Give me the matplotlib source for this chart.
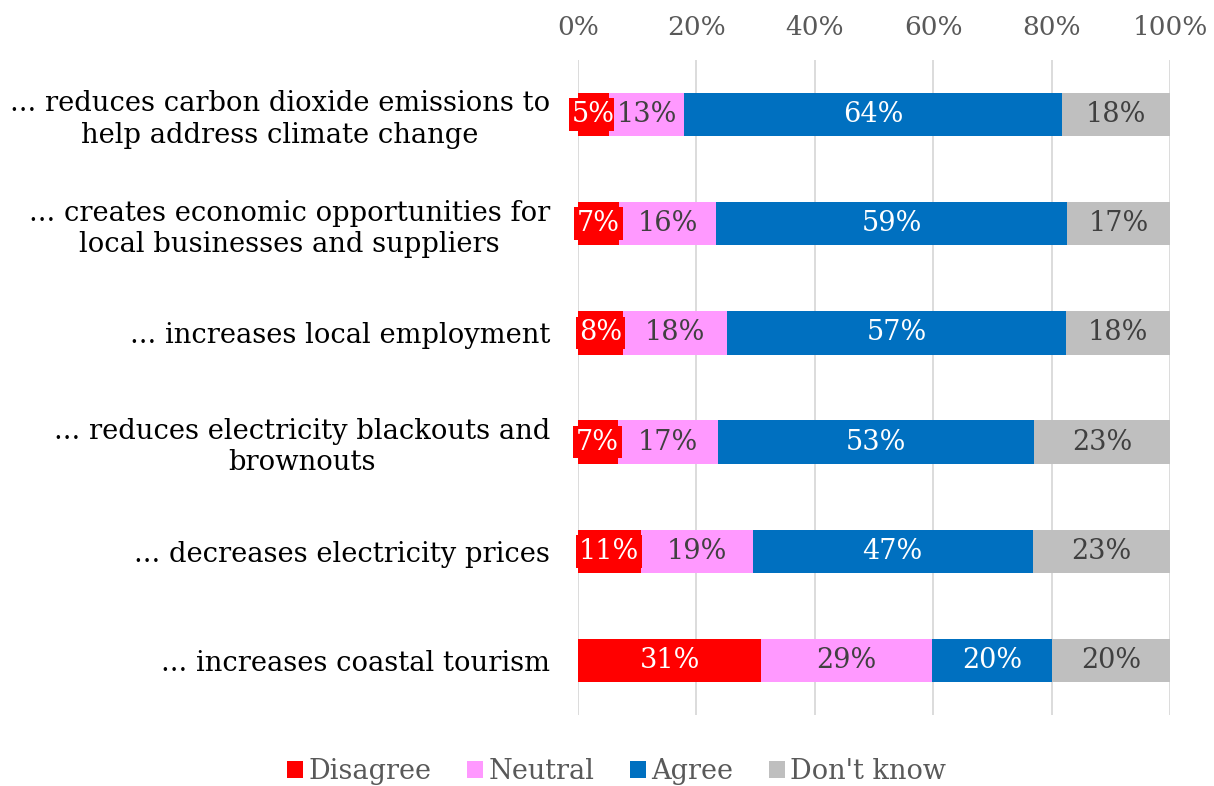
import matplotlib.pyplot as plt
import numpy as np

categories = [
    "... reduces carbon dioxide emissions to\nhelp address climate change",
    "... creates economic opportunities for\nlocal businesses and suppliers",
    "... increases local employment",
    "... reduces electricity blackouts and\nbrownouts",
    "... decreases electricity prices",
    "... increases coastal tourism",
]
series = ["Disagree", "Neutral", "Agree", "Don't know"]
# shares (labels show them rounded)
disagree = [5.3, 7.0, 7.6, 6.7, 10.6, 31.0]
neutral = [12.7, 16.4, 17.6, 17.0, 18.9, 28.8]
agree = [63.8, 59.2, 57.2, 53.4, 47.3, 20.3]
dont_know = [18.2, 17.4, 17.6, 22.9, 23.2, 19.9]

colors = ["#FF0000", "#FF99FF", "#0070C0", "#BFBFBF"]
label_colors = ["white", "#404040", "white", "#404040"]

plt.rcParams['font.family'] = ['DejaVu Serif']

fig = plt.figure(figsize=(12.14, 7.86), dpi=100)
ax = fig.add_axes([0.476, 0.090, 0.4878, 0.834])

y = np.arange(len(categories))
left = np.zeros(len(categories))
for name, vals, col, lcol in zip(series, [disagree, neutral, agree, dont_know], colors, label_colors):
    vals = np.array(vals, dtype=float)
    ax.barh(y, vals, left=left, height=0.4, color=col, label=name, zorder=3)
    for yi, l, v in zip(y, left, vals):
        ax.text(l + v / 2, yi, f"{round(v)}%", ha='center', va='center', color=lcol,
                fontsize=19.5, zorder=4,
                bbox=dict(boxstyle='square,pad=0.1', facecolor=col, edgecolor='none'))
    left += vals

ax.set_xlim(0, 100)
ax.set_ylim(len(categories) - 0.5, -0.5)
ax.set_xticks(range(0, 101, 20))
ax.set_xticklabels([f"{t}%" for t in range(0, 101, 20)])
ax.xaxis.tick_top()
ax.tick_params(axis='x', length=0, pad=14, labelsize=19, labelcolor='#595959')
ax.set_yticks(y)
ax.set_yticklabels(categories)
ax.tick_params(axis='y', length=0, pad=20, labelsize=19.7, labelcolor='black')
for t in ax.get_yticklabels():
    t.set_multialignment('center')
ax.grid(axis='x', color='#D9D9D9', linewidth=1.3, zorder=0)
for s in ax.spines.values():
    s.set_visible(False)

fig.legend(loc='lower center', bbox_to_anchor=(0.508, -0.03), ncol=4, frameon=False,
           fontsize=19.5, handlelength=0.6, handleheight=0.6, handletextpad=0.2,
           columnspacing=1.3, labelcolor='#595959')

fig.savefig('out.png', dpi=100)
